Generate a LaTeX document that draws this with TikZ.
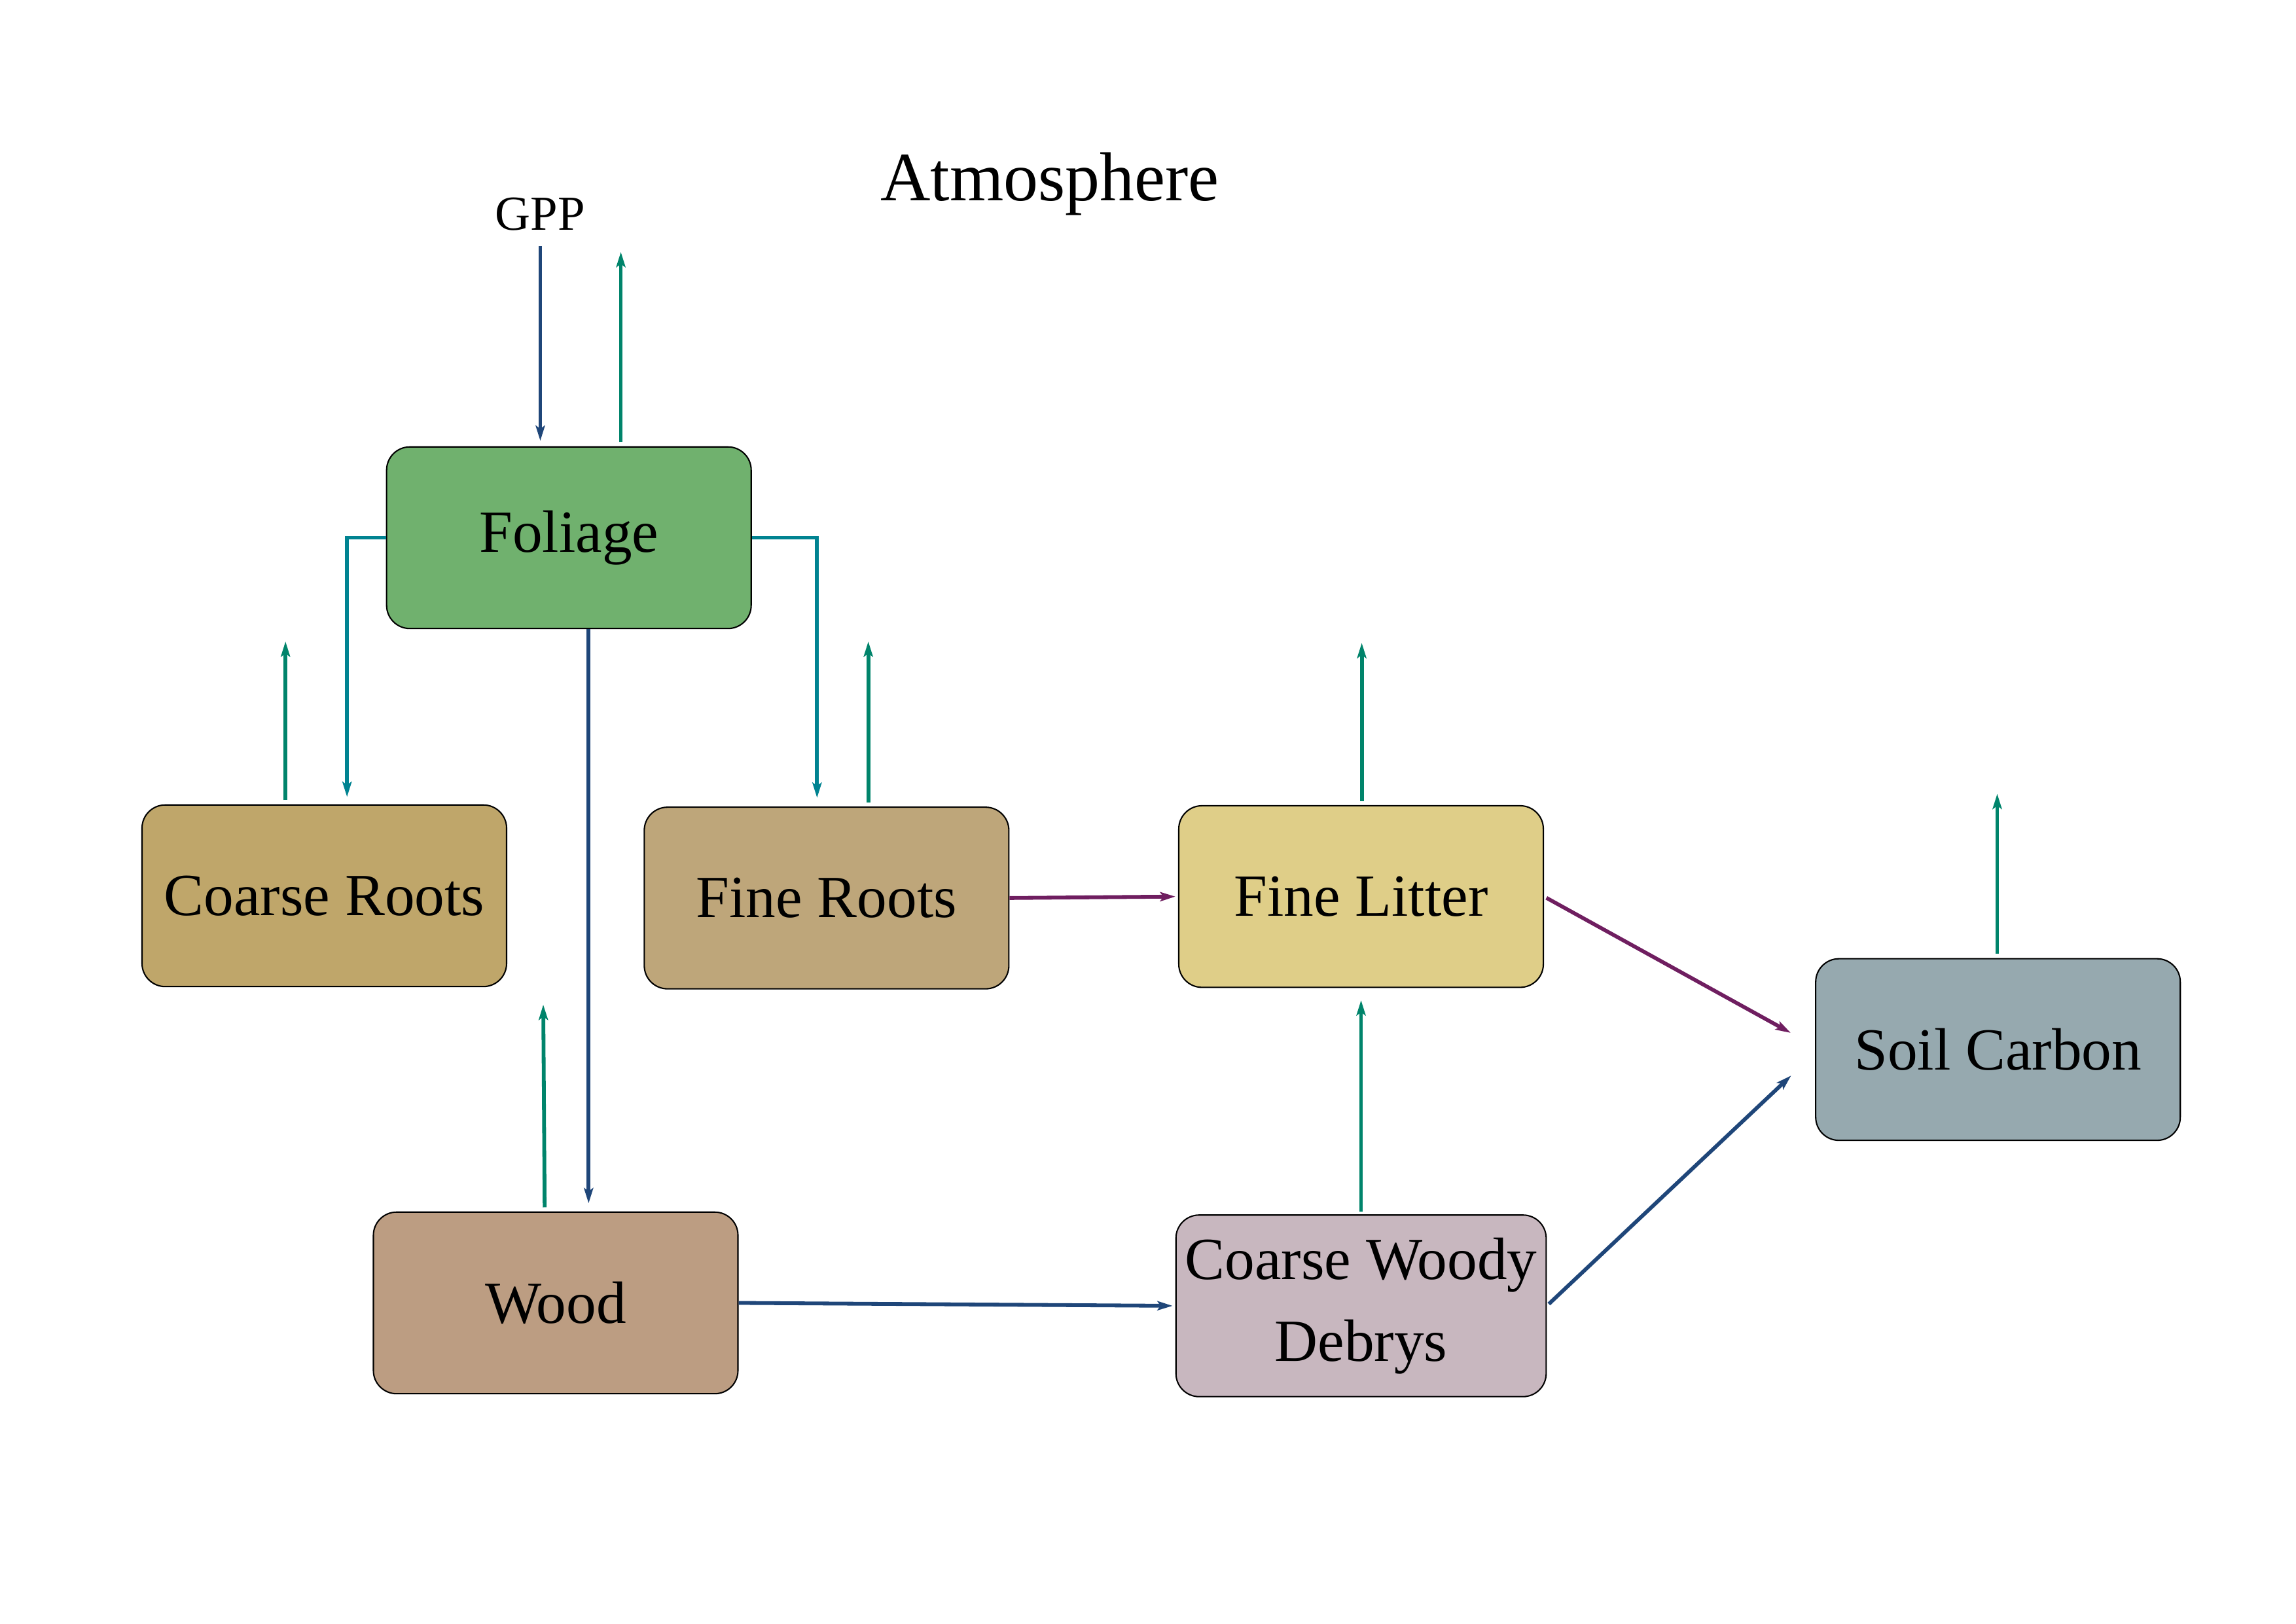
\documentclass[tikz,border=0pt]{standalone}
\usepackage{fontspec}
\setmainfont{Liberation Serif}
\usepackage{tikz}
\usetikzlibrary{arrows.meta}
\definecolor{foliagefill}{RGB}{112,177,110}
\definecolor{coarsefill}{RGB}{191,166,106}
\definecolor{finefill}{RGB}{190,166,122}
\definecolor{litterfill}{RGB}{223,206,136}
\definecolor{soilfill}{RGB}{150,169,175}
\definecolor{woodfill}{RGB}{188,157,130}
\definecolor{cwdfill}{RGB}{200,183,191}
\definecolor{fluxblue}{RGB}{31,70,121}
\definecolor{fluxgreen}{RGB}{0,132,107}
\definecolor{fluxteal}{RGB}{0,131,145}
\definecolor{fluxpurple}{RGB}{111,30,96}

\begin{document}
\begin{tikzpicture}[>={Stealth[length=5.6pt,width=3.4pt,inset=1.2pt]},shorten >=1pt,auto,
                    line width=1.4pt]
  \tikzstyle{pool}=[rectangle,rounded corners=0.3cm,draw=black,line width=0.5pt,
    minimum width=4.716cm,minimum height=2.349cm,align=center,
    font=\fontsize{22}{30}\selectfont]
  \tikzstyle{resp}=[->,fluxgreen,shorten <=1.5pt]
  \useasboundingbox (0,0) rectangle (29.7,21);
  \node[anchor=base] (atmosphere) at (13.581,18.401) {\fontsize{25.5}{30}\selectfont Atmosphere};
  \node[anchor=base] (gpp) at (6.989,18.022) {\fontsize{18}{22}\selectfont GPP};
  \node[pool,fill=foliagefill] (foliage) at (7.359,14.045) {Foliage};
  \node[pool,fill=coarsefill] (coarse) at (4.195,9.414) {Coarse Roots};
  \node[pool,fill=finefill] (fine) at (10.692,9.385) {Fine Roots};
  \node[pool,fill=litterfill] (litter) at (17.606,9.404) {Fine Litter};
  \node[pool,fill=soilfill] (soil) at (25.845,7.425) {Soil Carbon};
  \node[pool,fill=woodfill] (wood) at (7.188,4.148) {Wood};
  \node[pool,fill=cwdfill] (cwd) at (17.606,4.110) {Coarse Woody\\Debrys};
  % gpp uptake and fluxes back to the atmosphere
  \coordinate (gppin) at (6.989,17.814);
  \coordinate (foliageout) at (8.031,17.776);
  \coordinate (coarseout) at (3.693,12.738);
  \coordinate (fineout) at (11.232,12.738);
  \coordinate (woodout) at (7.027,8.040);
  \coordinate (litterout) at (17.615,12.719);
  \coordinate (soilout) at (25.835,10.768);
  \draw[fluxblue,->,shorten >=2pt] (gppin) -- (gppin |- foliage.north);
  \draw[resp] (foliage.north -| foliageout) -- (foliageout);
  \draw[resp] (coarse.north -| coarseout) -- (coarseout);
  \draw[resp] (fine.north -| fineout) -- (fineout);
  \draw[resp] ([xshift=-0.142cm]wood.north) -- (woodout);
  \draw[resp] (litter.north -| litterout) -- (litterout);
  \draw[resp] (soil.north -| soilout) -- (soilout);
  % allocation
  \draw[fluxteal,->,shorten >=2.7pt] (foliage.west) -| ([xshift=0.294cm]coarse.north);
  \draw[fluxteal,->,shorten >=3.2pt] (foliage.east) -| ([xshift=-0.123cm]fine.north);
  \draw[fluxblue,->,shorten >=3pt]
        ([xshift=0.255cm]foliage.south) -- ([xshift=0.255cm]foliage.south |- wood.north);
  % litter and decomposition
  \draw[fluxpurple] (fine.east) edge[->] (litter.west);
  \draw[fluxblue] (wood.east) edge[->] (cwd.west);
  \draw[fluxgreen,->,shorten <=1pt,shorten >=4.5pt] (cwd.north) -- (litter.south);
  \draw[fluxpurple,->,shorten <=1pt] (litter.east) -- ([xshift=-0.284cm,yshift=0.199cm]soil.west);
  \draw[fluxblue,->,shorten <=1pt] (cwd.east) -- ([xshift=-0.284cm,yshift=-0.313cm]soil.west);
\end{tikzpicture}
\end{document}
